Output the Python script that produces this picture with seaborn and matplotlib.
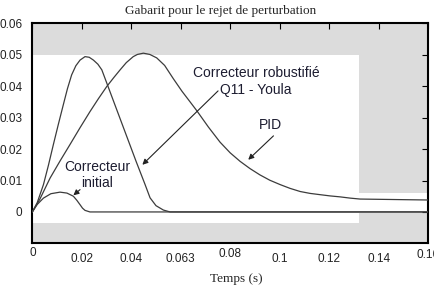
import matplotlib
matplotlib.use('Agg')
import numpy as np
import pandas as pd
import seaborn as sns
import matplotlib.pyplot as plt
import matplotlib.transforms as mtransforms

# curves (time in s, amplitude)
t_robust = [0, 0.002, 0.0045, 0.0065, 0.0085, 0.0105, 0.0125, 0.0142, 0.0159,
            0.0176, 0.0193, 0.0213, 0.023, 0.0247, 0.0265, 0.0281, 0.0301,
            0.033, 0.036, 0.039, 0.042, 0.0456, 0.0476, 0.05, 0.053, 0.0557, 0.16]
y_robust = [0, 0.003, 0.0087, 0.0148, 0.0214, 0.0278, 0.034, 0.0392, 0.0436,
            0.0465, 0.0483, 0.0494, 0.0492, 0.0483, 0.047, 0.0452, 0.041,
            0.0349, 0.0286, 0.0223, 0.016, 0.0087, 0.0045, 0.002, 0.0006, 0, 0]

t_pid = [0, 0.003, 0.0072, 0.0112, 0.0152, 0.0193, 0.0233, 0.0267, 0.0301,
         0.033, 0.0355, 0.038, 0.0408, 0.0425, 0.0449, 0.0475, 0.0503, 0.0535,
         0.057, 0.0605, 0.0638, 0.0665, 0.0712, 0.0759, 0.08, 0.084, 0.088,
         0.092, 0.096, 0.1002, 0.1042, 0.1083, 0.1123, 0.1163, 0.1204, 0.1244,
         0.1285, 0.1325, 0.16]
y_pid = [0, 0.004, 0.0108, 0.0162, 0.0214, 0.0268, 0.0319, 0.036, 0.0399,
         0.0428, 0.0452, 0.0475, 0.0494, 0.0501, 0.0505, 0.0501, 0.049, 0.0466,
         0.0424, 0.0384, 0.035, 0.0322, 0.027, 0.0222, 0.0188, 0.0161, 0.0138,
         0.0118, 0.0101, 0.0087, 0.0075, 0.0065, 0.0059, 0.0055, 0.0051, 0.0048,
         0.0044, 0.0041, 0.0038]

t_init = [0, 0.002, 0.0045, 0.0075, 0.0112, 0.014, 0.0166, 0.018, 0.0193,
          0.0203, 0.0213, 0.0233, 0.16]
y_init = [0, 0.0024, 0.0044, 0.0058, 0.0063, 0.006, 0.005, 0.0037, 0.0023,
          0.0012, 0.0005, 0, 0]

# template (gabarit) bounds
gab_t = [0, 0.132, 0.132, 0.16]
gab_upper = [0.05, 0.05, 0.006, 0.006]
gab_lower = [-0.0035, -0.0035, -0.0003, -0.0003]

xticks = [0, 0.02, 0.04, 0.06, 0.08, 0.1, 0.12, 0.14, 0.16]
xtick_labels = ['0', '0.02', '0.04', '0.063', '0.08', '0.1', '0.12', '0.14', '0.16']
yticks = [0, 0.01, 0.02, 0.03, 0.04, 0.05, 0.06]
ytick_labels = ['0', '0.01', '0.02', '0.03', '0.04', '0.05', '0.06']

sns.set_style('white')
plt.rcParams['font.family'] = ['Liberation Sans', 'DejaVu Sans']

fig = plt.figure(figsize=(4.35, 2.86), dpi=100)
ax = fig.add_axes([0.0743, 0.149, 0.9097, 0.7695])

gray = '#dcdcdc'
ax.fill_between(gab_t, gab_upper, 0.06, color=gray, lw=0, zorder=0)
ax.fill_between(gab_t, gab_lower, -0.01, color=gray, lw=0, zorder=0)

line_col = '#3c3c3c'
for t, y in [(t_init, y_init), (t_robust, y_robust), (t_pid, y_pid)]:
    sns.lineplot(x=t, y=y, ax=ax, estimator=None, sort=False,
                 color=line_col, lw=0.9, zorder=3)

ax.set_xlim(0, 0.16)
ax.set_ylim(-0.01, 0.06)

ax.set_xticks(xticks)
ax.set_xticklabels(xtick_labels)
ax.set_yticks(yticks)
ax.set_yticklabels(ytick_labels)
ax.tick_params(direction='in', length=4, width=0.8, color='black',
               top=True, right=True, labelsize=8.5, labelcolor='#222222')
ax.tick_params(axis='x', pad=7)
ax.tick_params(axis='y', pad=7)

# raised x tick labels, as in the reference
for i, dy in [(0, 6), (4, 5), (8, 4)]:
    lab = ax.get_xticklabels()[i]
    lab.set_transform(lab.get_transform() +
                      mtransforms.ScaledTranslation(0, dy / 100, fig.dpi_scale_trans))

for s in ax.spines.values():
    s.set_visible(True)
    s.set_color('black')
    s.set_linewidth(1.5)

ax.set_title('Gabarit pour le rejet de perturbation', family='Liberation Serif',
             fontsize=9.5, pad=7, x=0.475)
ax.set_xlabel('Temps (s)', family='Liberation Serif', fontsize=9.5)
ax.xaxis.set_label_coords(0.515, -0.135)

txt_col = '#1c1c30'
arrow = dict(arrowstyle='-|>', color='#222222', lw=0.8, mutation_scale=8,
             shrinkA=0, shrinkB=0)
ax.text(0.0905, 0.0415, 'Correcteur robustifié\nQ11 - Youla', ha='center',
        va='center', fontsize=10, color=txt_col, linespacing=1.2)
ax.annotate('', xy=(0.0445, 0.015), xytext=(0.0751, 0.0385), arrowprops=arrow)
ax.text(0.0961, 0.0277, 'PID', ha='center', va='center', fontsize=10, color=txt_col)
ax.annotate('', xy=(0.0873, 0.0166), xytext=(0.0975, 0.0242), arrowprops=arrow)
ax.text(0.0262, 0.0117, 'Correcteur\ninitial', ha='center', va='center',
        fontsize=10, color=txt_col, linespacing=1.2)
ax.annotate('', xy=(0.0166, 0.0053), xytext=(0.0193, 0.0071), arrowprops=arrow)

fig.savefig('out.png', dpi=100)
